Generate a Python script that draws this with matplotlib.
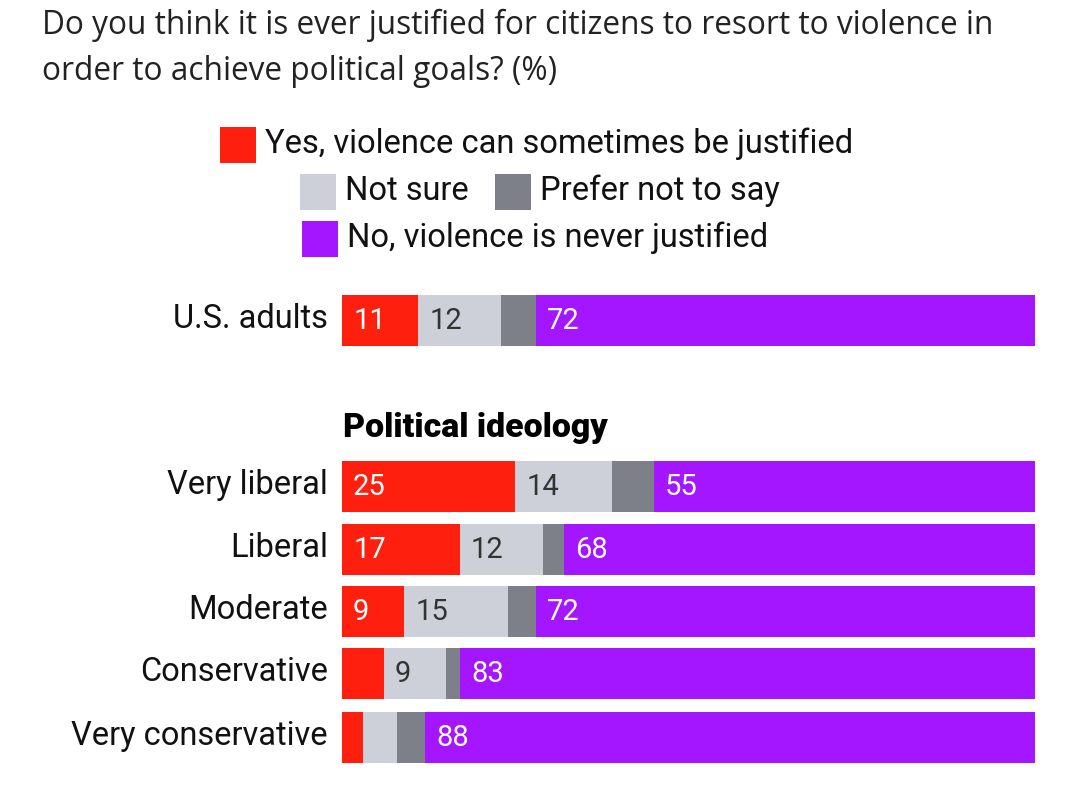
import matplotlib
matplotlib.use('Agg')
import matplotlib.pyplot as plt
from matplotlib.patches import Rectangle

plt.rcParams['font.family'] = ['Roboto', 'DejaVu Sans']

# data
categories = ['U.S. adults', 'Very liberal', 'Liberal', 'Moderate', 'Conservative', 'Very conservative']
yes_vals = [11, 25, 17, 9, 6, 3]
notsure_vals = [12, 14, 12, 15, 9, 5]
prefer_vals = [5, 6, 3, 4, 2, 4]
no_vals = [72, 55, 68, 72, 83, 88]

series_names = ['Yes, violence can sometimes be justified', 'Not sure',
                'Prefer not to say', 'No, violence is never justified']
colors = ['#ff1f0f', '#cdd0d8', '#7d8089', '#a416ff']
label_colors = ['white', '#333333', 'white', 'white']

W, H = 1080, 787
fig = plt.figure(figsize=(W / 100, H / 100), dpi=100)

# overlay axes in pixel coordinates for free text / legend
over = fig.add_axes([0, 0, 1, 1])
over.set_xlim(0, W)
over.set_ylim(H, 0)
over.axis('off')

# bar axes: x covers 342..1035 px, y in pixel units for row layout
ax = fig.add_axes([342 / W, 0, 693 / W, 1])
ax.set_xlim(0, 100)
ax.set_ylim(H, 0)
ax.axis('off')

row_y = [320, 486, 549, 611, 673, 737]
bar_h = 51

all_series = [yes_vals, notsure_vals, prefer_vals, no_vals]
left = [0] * len(categories)
for s, vals in enumerate(all_series):
    ax.barh(row_y, vals, left=left, height=bar_h, color=colors[s], linewidth=0)
    for i, v in enumerate(vals):
        if v >= 9 and s != 2:
            ax.text(left[i] + 1.6, row_y[i] + 1, str(v), ha='left', va='center',
                    fontsize=21, color=label_colors[s])
    left = [l + v for l, v in zip(left, vals)]

for y, name in zip(row_y, categories):
    over.text(328, y - 1, name, ha='right', va='center', fontsize=23.5, color='#111111')

over.text(343, 428, 'Political ideology', ha='left', va='center', fontsize=24.4,
          fontweight='heavy', color='black')

# title
title_font = ['Open Sans', 'DejaVu Sans']
over.text(42, 25, 'Do you think it is ever justified for citizens to resort to violence in',
          ha='left', va='center', fontsize=22.8, color='#222222', family=title_font)
over.text(42, 72, 'order to achieve political goals? (%)',
          ha='left', va='center', fontsize=22.8, color='#222222', family=title_font)

# legend
legend_pos = [(220, 145), (300, 192), (495, 192), (302, 239)]
sq = 36
for (x, y), c, name in zip(legend_pos, colors, series_names):
    over.add_patch(Rectangle((x, y - sq / 2), sq, sq, color=c, linewidth=0))
    over.text(x + sq + 9, y - 1, name, ha='left', va='center', fontsize=23.5, color='#111111')

fig.savefig('out.png', dpi=100, facecolor='white')
